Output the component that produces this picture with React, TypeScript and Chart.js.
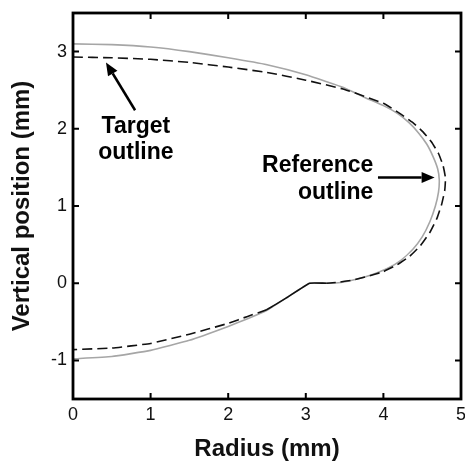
import React, { useEffect, useRef } from 'react';
import { Chart, registerables } from 'chart.js';

Chart.register(...registerables);

// Reference outline (gray solid)
const referenceX = [0, 0.5, 1, 1.5, 2, 2.5, 3, 3.5, 3.75, 4.0, 4.18, 4.33, 4.45, 4.56, 4.64, 4.7, 4.72, 4.71, 4.67, 4.6, 4.5, 4.38, 4.23, 4.05, 3.85, 3.65, 3.45, 3.27, 3.05, 2.75, 2.5, 2.25, 2.0, 1.5, 1.0, 0.5, 0];
const referenceY = [3.1, 3.09, 3.06, 3.0, 2.92, 2.83, 2.7, 2.53, 2.41, 2.3, 2.2, 2.08, 1.95, 1.8, 1.64, 1.48, 1.34, 1.18, 1.0, 0.8, 0.6, 0.44, 0.3, 0.19, 0.11, 0.05, 0.01, 0.0, 0.0, -0.19, -0.35, -0.46, -0.56, -0.74, -0.87, -0.95, -0.98];

// Target outline (black dashed)
const targetX = [0, 0.5, 1, 1.5, 2, 2.5, 3, 3.5, 4.0, 4.21, 4.38, 4.51, 4.62, 4.71, 4.77, 4.8, 4.79, 4.75, 4.69, 4.6, 4.48, 4.34, 4.18, 4.0, 3.8, 3.6, 3.4, 3.27, 3.05, 2.75, 2.5, 2.25, 2.0, 1.5, 1.0, 0.5, 0];
const targetY = [2.93, 2.92, 2.9, 2.86, 2.8, 2.73, 2.63, 2.51, 2.33, 2.2, 2.08, 1.96, 1.83, 1.68, 1.52, 1.36, 1.2, 1.02, 0.84, 0.66, 0.49, 0.35, 0.24, 0.15, 0.09, 0.04, 0.01, 0.0, 0.0, -0.19, -0.34, -0.43, -0.52, -0.66, -0.78, -0.84, -0.86];

const xTicks = [0, 1, 2, 3, 4, 5];
const yTicks = [-1, 0, 1, 2, 3];
const xTitle = 'Radius (mm)';
const yTitle = 'Vertical position (mm)';
const targetLabel = ['Target', 'outline'];
const referenceLabel = ['Reference', 'outline'];

const FONT = "'Liberation Sans', Arial, Helvetica, sans-serif";

function drawArrow(ctx: CanvasRenderingContext2D, x0: number, y0: number, x1: number, y1: number) {
  const ang = Math.atan2(y1 - y0, x1 - x0);
  const head = 13;
  const half = 5.5;
  const bx = x1 - head * Math.cos(ang);
  const by = y1 - head * Math.sin(ang);
  ctx.beginPath();
  ctx.moveTo(x0, y0);
  ctx.lineTo(bx, by);
  ctx.lineWidth = 2.5;
  ctx.strokeStyle = '#000';
  ctx.stroke();
  ctx.beginPath();
  ctx.moveTo(x1, y1);
  ctx.lineTo(bx + half * Math.sin(ang), by - half * Math.cos(ang));
  ctx.lineTo(bx - half * Math.sin(ang), by + half * Math.cos(ang));
  ctx.closePath();
  ctx.fillStyle = '#000';
  ctx.fill();
}

const framePlugin = {
  id: 'frameAndNotes',
  afterDatasetsDraw(chart: any) {
    const { ctx, chartArea } = chart;
    const xs = chart.scales.x;
    const ys = chart.scales.y;
    const { left, right, top, bottom } = chartArea;
    ctx.save();
    ctx.strokeStyle = '#000';
    ctx.lineWidth = 2.8;
    ctx.strokeRect(left, top, right - left, bottom - top);
    ctx.lineWidth = 2;
    const tl = 6;
    ctx.beginPath();
    xTicks.forEach((v) => {
      const px = xs.getPixelForValue(v);
      if (px <= left + 1 || px >= right - 1) return;
      ctx.moveTo(px, bottom);
      ctx.lineTo(px, bottom - tl);
      ctx.moveTo(px, top);
      ctx.lineTo(px, top + tl);
    });
    yTicks.forEach((v) => {
      const py = ys.getPixelForValue(v);
      if (py <= top + 1 || py >= bottom - 1) return;
      ctx.moveTo(left, py);
      ctx.lineTo(left + tl, py);
      ctx.moveTo(right, py);
      ctx.lineTo(right - tl, py);
    });
    ctx.stroke();

    ctx.fillStyle = '#000';
    ctx.font = `bold 23px ${FONT}`;
    ctx.textBaseline = 'alphabetic';
    ctx.textAlign = 'center';
    const tx = xs.getPixelForValue(0.81);
    ctx.fillText(targetLabel[0], tx, ys.getPixelForValue(1.94));
    ctx.fillText(targetLabel[1], tx, ys.getPixelForValue(1.61));
    drawArrow(ctx, xs.getPixelForValue(0.8), ys.getPixelForValue(2.24), xs.getPixelForValue(0.425), ys.getPixelForValue(2.86));

    ctx.textAlign = 'right';
    const rx = xs.getPixelForValue(3.87);
    ctx.fillText(referenceLabel[0], rx, ys.getPixelForValue(1.44));
    ctx.fillText(referenceLabel[1], rx, ys.getPixelForValue(1.09));
    drawArrow(ctx, xs.getPixelForValue(3.93), ys.getPixelForValue(1.37), xs.getPixelForValue(4.66), ys.getPixelForValue(1.37));
    ctx.restore();
  },
};

export default function App() {
  const ref = useRef<HTMLCanvasElement | null>(null);
  useEffect(() => {
    if (!ref.current) return;
    const chart = new Chart(ref.current, {
      type: 'line',
      data: {
        datasets: [
          {
            label: 'Target outline',
            data: targetX.map((x, i) => ({ x, y: targetY[i] })),
            borderColor: '#111',
            borderWidth: 1.6,
            borderDash: [10, 5],
            pointRadius: 0,
            tension: 0.12,
            fill: false,
            segment: {
              borderDash: (c: any) => {
                const a = c.p0.parsed;
                const b = c.p1.parsed;
                const inA = a.x >= 2.49 && a.x <= 3.28 && a.y <= 0.01;
                const inB = b.x >= 2.49 && b.x <= 3.28 && b.y <= 0.01;
                return inA && inB ? [] : undefined;
              },
            },
          },
          {
            label: 'Reference outline',
            data: referenceX.map((x, i) => ({ x, y: referenceY[i] })),
            borderColor: '#a6a6a6',
            borderWidth: 1.6,
            pointRadius: 0,
            tension: 0.12,
            fill: false,
          },
        ],
      },
      options: {
        animation: false,
        responsive: false,
        layout: { padding: { top: 13, right: 4, left: 0, bottom: 0 } },
        plugins: { legend: { display: false }, tooltip: { enabled: false } },
        scales: {
          x: {
            type: 'linear',
            min: 0,
            max: 5,
            afterBuildTicks: (s: any) => {
              s.ticks = xTicks.map((v) => ({ value: v }));
            },
            afterFit: (s: any) => {
              s.height = 62;
              s.paddingLeft = 0;
              s.paddingRight = 0;
            },
            grid: { display: false, drawTicks: false },
            border: { display: false },
            ticks: { color: '#111', font: { family: FONT, size: 18 }, padding: 5, maxRotation: 0 },
            title: {
              display: true,
              text: xTitle,
              color: '#111',
              font: { family: FONT, size: 24, weight: 'bold', lineHeight: 1 },
              padding: { top: 0, bottom: 0 },
            },
          },
          y: {
            type: 'linear',
            min: -1.5,
            max: 3.5,
            afterBuildTicks: (s: any) => {
              s.ticks = yTicks.map((v) => ({ value: v }));
            },
            afterFit: (s: any) => {
              s.width = 73;
              s.paddingTop = 0;
              s.paddingBottom = 0;
            },
            grid: { display: false, drawTicks: false },
            border: { display: false },
            ticks: { color: '#111', font: { family: FONT, size: 18 }, padding: 6 },
            title: {
              display: true,
              text: yTitle,
              color: '#111',
              font: { family: FONT, size: 24, weight: 'bold', lineHeight: 1 },
              padding: { top: 10, bottom: 0 },
            },
          },
        },
      } as any,
      plugins: [framePlugin],
    });
    return () => chart.destroy();
  }, []);
  return (
    <div style={{ position: 'fixed', left: 0, top: 0, width: 465, height: 461, background: '#fff' }}>
      <canvas ref={ref} width={465} height={461} style={{ display: 'block' }} />
    </div>
  );
}
